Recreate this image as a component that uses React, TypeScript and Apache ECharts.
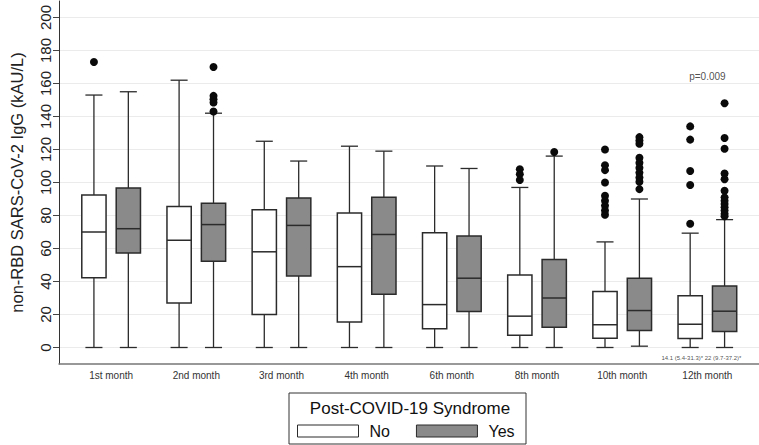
import React, { useEffect, useRef } from 'react';
import * as echarts from 'echarts';

const categories = ['1st month', '2nd month', '3rd month', '4th month', '6th month', '8th month', '10th month', '12th month'];

// [min, Q1, median, Q3, max] (whisker ends)
const noStats = [
  [0, 42.2, 70, 92.5, 153],
  [0, 27, 65, 85.5, 162],
  [0, 20, 58, 83.5, 125],
  [0, 15.5, 49, 81.5, 122],
  [0, 11.3, 26, 69.5, 110],
  [0, 7.5, 19, 44, 97],
  [0, 5.6, 13.8, 34, 64],
  [0, 5.4, 14.1, 31.3, 69.3],
];
const yesStats = [
  [0, 57.3, 72, 96.7, 155],
  [0, 52.3, 74.5, 87.5, 142],
  [0, 43.3, 74, 90.6, 113],
  [0, 32.3, 68.5, 91, 119],
  [0, 21.8, 42, 67.6, 108.5],
  [0, 12.3, 30, 53.3, 116],
  [0.8, 10.3, 22.4, 42, 90],
  [0, 9.7, 22, 37.2, 77.5],
];
const noOutliers = [
  [173],
  [],
  [],
  [],
  [],
  [108, 105, 101.5],
  [120, 110.5, 107.5, 100, 92, 89, 86, 83, 80.5],
  [134, 126, 107, 98.5, 75],
];
const yesOutliers = [
  [],
  [170, 152.5, 150.5, 148.5, 143],
  [],
  [],
  [],
  [118.5],
  [127.5, 125.5, 123.5, 115, 112, 109, 106, 103, 100.5, 96],
  [148, 127, 120.5, 105.5, 102, 95, 91, 89, 87, 85, 83, 81, 79.5],
];
const yTicks = [0, 20, 40, 60, 80, 100, 120, 140, 160, 180, 200];
const groupNames = ['No', 'Yes'];
const legendTitle = 'Post-COVID-19 Syndrome';
const yAxisTitle = 'non-RBD SARS-CoV-2 IgG (kAU/L)';
const notes = [
  { cat: 7, value: 164, text: 'p=0.009', size: 10 },
  { cat: 6.93, value: -6.5, text: '14.1 (5.4-31.3)* 22 (9.7-37.2)*', size: 6 },
];

const FONT = '"Liberation Sans", Arial, Helvetica, sans-serif';
const OFFSET = 0.202;
const BOX_FRAC = 0.285;
const CAP_FRAC = 0.2;
const STROKE = '#2b2b2b';

function boxSeries(name: string, stats: number[][], offset: number, fill: string) {
  return {
    type: 'custom',
    name,
    data: stats.map((s, i) => [i, ...s]),
    encode: { x: 0, y: [1, 2, 3, 4, 5] },
    renderItem: (params: any, api: any) => {
      const i = api.value(0);
      const vals = [1, 2, 3, 4, 5].map((k) => api.value(k));
      const unit = api.size([1, 0])[0];
      const cx = api.coord([i + offset, 0])[0];
      const y = (v: number) => api.coord([i + offset, v])[1];
      const half = (BOX_FRAC * unit) / 2;
      const cap = (CAP_FRAC * unit) / 2;
      const [mn, q1, md, q3, mx] = vals;
      const lineStyle = { stroke: STROKE, lineWidth: 1.3 };
      return {
        type: 'group',
        children: [
          { type: 'line', shape: { x1: cx, y1: y(mn), x2: cx, y2: y(q1) }, style: lineStyle },
          { type: 'line', shape: { x1: cx, y1: y(q3), x2: cx, y2: y(mx) }, style: lineStyle },
          { type: 'line', shape: { x1: cx - cap, y1: y(mn), x2: cx + cap, y2: y(mn) }, style: lineStyle },
          { type: 'line', shape: { x1: cx - cap, y1: y(mx), x2: cx + cap, y2: y(mx) }, style: lineStyle },
          {
            type: 'rect',
            shape: { x: cx - half, y: y(q3), width: half * 2, height: y(q1) - y(q3) },
            style: { fill, stroke: STROKE, lineWidth: 1.5 },
          },
          { type: 'line', shape: { x1: cx - half, y1: y(md), x2: cx + half, y2: y(md) }, style: { stroke: STROKE, lineWidth: 1.5 } },
        ],
      };
    },
  };
}

function outlierSeries(name: string, out: number[][], offset: number) {
  const data: number[][] = [];
  out.forEach((arr, i) => arr.forEach((v) => data.push([i + offset, v])));
  return {
    type: 'scatter',
    name,
    data,
    symbol: 'circle',
    symbolSize: 8,
    itemStyle: { color: '#0a0a0a', opacity: 1 },
    silent: true,
  };
}

export default function App() {
  const ref = useRef<HTMLDivElement>(null);
  useEffect(() => {
    const chart = echarts.init(ref.current!, null, { renderer: 'svg' });
    const option: any = {
      animation: false,
      backgroundColor: '#ffffff',
      textStyle: { fontFamily: FONT },
      grid: { left: 54, right: 0, top: 1, bottom: 81 },
      xAxis: {
        type: 'value',
        min: -0.612,
        max: 7.606,
        axisLine: { show: true, onZero: false, lineStyle: { color: '#777', width: 1.5 } },
        axisTick: { show: false, customValues: categories.map((_, i) => i) },
        splitLine: { show: false },
        axisLabel: {
          customValues: categories.map((_, i) => i),
          formatter: (v: number) => categories[Math.round(v)],
          fontSize: 10,
          color: '#333',
          margin: 6,
          fontFamily: FONT,
        },
      },
      yAxis: {
        type: 'value',
        min: -10,
        max: 210,
        name: yAxisTitle,
        nameLocation: 'middle',
        nameGap: 34,
        nameTextStyle: { fontSize: 16.5, color: '#222', fontFamily: FONT },
        axisLine: { show: true, onZero: false, lineStyle: { color: '#333', width: 1 } },
        axisTick: { show: true, customValues: yTicks, length: 6, lineStyle: { color: '#444' } },
        axisLabel: { customValues: yTicks, rotate: 90, fontSize: 15, color: '#222', margin: 6, fontFamily: FONT },
        splitLine: { show: true, lineStyle: { color: '#ebebeb', width: 1 } },
      },
      legend: {
        data: [
          { name: groupNames[0], icon: 'rect', itemStyle: { color: '#ffffff', borderColor: STROKE, borderWidth: 1 } },
          { name: groupNames[1], icon: 'rect', itemStyle: { color: '#8a8a8a', borderColor: STROKE, borderWidth: 1 } },
        ],
        left: 297,
        top: 423,
        padding: 0,
        itemWidth: 61,
        itemHeight: 12,
        itemGap: 26,
        selectedMode: false,
        textStyle: { fontSize: 16, color: '#111', fontFamily: FONT, padding: [0, 0, 0, 6] },
      },
      graphic: [
        {
          type: 'rect',
          shape: { x: 289, y: 393, width: 237, height: 51 },
          style: { fill: 'none', stroke: '#333', lineWidth: 1 },
          silent: true,
        },
        {
          type: 'text',
          x: 410,
          y: 408,
          style: { text: legendTitle, fontSize: 17, fill: '#111', fontFamily: FONT, textAlign: 'center', textVerticalAlign: 'middle' },
          silent: true,
        },
      ],
      series: [
        boxSeries(groupNames[0], noStats, -OFFSET, '#ffffff'),
        boxSeries(groupNames[1], yesStats, OFFSET, '#8a8a8a'),
        outlierSeries('No outliers', noOutliers, -OFFSET),
        outlierSeries('Yes outliers', yesOutliers, OFFSET),
        {
          type: 'scatter',
          name: 'notes',
          symbolSize: 0,
          silent: true,
          itemStyle: { color: '#222' },
          data: notes.map((n) => ({
            value: [n.cat, n.value],
            name: n.text,
            label: { fontSize: n.size, color: '#222' },
          })),
          label: { show: true, position: 'inside', formatter: '{b}', color: '#222', fontFamily: FONT },
        },
      ],
    };
    chart.setOption(option);
    return () => chart.dispose();
  }, []);
  return <div ref={ref} style={{ position: 'fixed', left: 0, top: 0, width: 759, height: 445 }} />;
}
